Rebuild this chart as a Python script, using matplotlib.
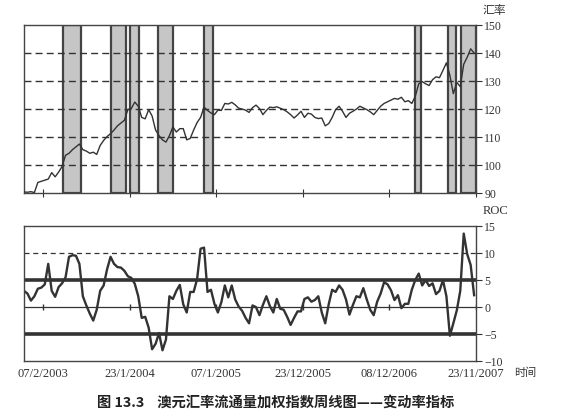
import matplotlib
matplotlib.use("Agg")
import matplotlib.pyplot as plt
import pandas as pd

plt.rcParams['font.family'] = ['Liberation Serif', 'Noto Sans CJK SC', 'DejaVu Sans']

# weekly data, one sample every two weeks
dates = pd.date_range('2002-11-22', periods=131, freq='14D')

price = [
    90.4, 90.3, 90.5, 90.2, 93.8, 94.2, 94.6, 95.0, 97.3, 95.8,
    97.5, 99.5, 103.5, 104.2, 105.5, 106.5, 107.5, 105.5, 105.0, 104.2,
    104.6, 103.8, 107.0, 108.8, 110.2, 111.2, 112.5, 114.0, 115.0, 116.0,
    119.8, 120.2, 122.5, 121.0, 117.0, 116.5, 119.8, 117.5, 112.5, 110.5,
    109.0, 108.2, 110.5, 113.6, 111.8, 113.0, 113.0, 109.0, 109.5, 112.5,
    115.2, 117.0, 120.7, 119.5, 118.6, 118.0, 119.6, 119.5, 122.0, 121.8,
    122.4, 121.5, 120.3, 120.0, 119.6, 118.8, 120.5, 121.4, 120.2, 118.0,
    119.5, 120.7, 120.5, 120.8, 120.3, 119.8, 119.0, 118.0, 116.8, 117.9,
    119.2, 117.0, 118.5, 118.2, 117.0, 116.6, 116.8, 114.0, 114.8, 117.0,
    119.8, 121.0, 119.2, 117.0, 118.5, 119.2, 120.0, 121.0, 120.4, 119.8,
    119.0, 118.0, 119.5, 121.0, 122.0, 122.6, 123.2, 123.8, 123.5, 124.2,
    122.6, 123.0, 122.0, 124.5, 129.0, 129.8, 129.0, 128.4, 130.5, 131.5,
    131.2, 133.8, 136.5, 132.0, 125.5, 129.5, 128.0, 136.0, 138.5, 141.5,
    140.0,
]

roc = [
    3.0, 2.5, 1.2, 2.0, 3.4, 3.6, 4.2, 8.0, 3.0, 1.9,
    3.7, 4.4, 5.5, 9.3, 9.6, 9.5, 8.0, 2.0, 0.3, -1.2,
    -2.5, -0.5, 3.0, 4.0, 7.0, 9.3, 8.0, 7.4, 7.3, 6.7,
    5.7, 5.4, 4.3, 2.0, -2.0, -1.8, -3.8, -7.8, -6.8, -4.8,
    -8.0, -6.0, 2.0, 1.5, 3.0, 4.1, 0.5, -1.0, 2.8, 2.8,
    5.2, 10.8, 11.0, 2.8, 3.2, 0.6, -1.0, 0.9, 4.0, 1.8,
    4.0, 1.4, 0.1, -0.7, -2.0, -3.0, 0.3, 0.0, -1.5, 0.4,
    2.0, 0.2, -1.0, 1.5, -0.3, -0.5, -1.8, -3.3, -2.0, -0.8,
    -0.8, 1.5, 1.8, 1.0, 1.3, 2.0, -1.0, -3.0, 0.5, 3.2,
    2.8, 4.0, 3.2, 1.4, -1.4, 0.4, 2.0, 1.8, 3.5, 1.4,
    -0.5, -1.5, 1.0, 2.5, 4.6, 4.2, 3.1, 1.3, 2.2, -0.2,
    0.6, 0.6, 3.2, 5.0, 6.2, 4.0, 5.0, 3.9, 4.4, 2.4,
    3.0, 5.0, 2.0, -5.3, -3.0, -0.6, 3.0, 13.6, 9.8, 7.8,
    2.2,
]

# shaded periods on the price chart
band_start = ['2003-04-28', '2003-11-10', '2004-01-26', '2004-05-17',
              '2004-11-20', '2007-03-23', '2007-08-03', '2007-09-25']
band_end = ['2003-07-10', '2004-01-10', '2004-03-02', '2004-07-17',
            '2004-12-26', '2007-04-17', '2007-09-05', '2007-11-23']

tick_dates = ['2003-02-07', '2004-01-23', '2005-01-07', '2005-12-23',
              '2006-12-08', '2007-11-23']
tick_labels = ['07/2/2003', '23/1/2004', '07/1/2005', '23/12/2005',
               '08/12/2006', '23/11/2007']

price_ticks = [90, 100, 110, 120, 130, 140, 150]
roc_ticks = [-10, -5, 0, 5, 10, 15]

ink = '#333333'
x0 = pd.Timestamp('2002-11-22')
x1 = pd.Timestamp('2007-11-23')
ticks = pd.to_datetime(tick_dates)

fig = plt.figure(figsize=(5.62, 4.17), dpi=100)
ax1 = fig.add_axes([0.0427, 0.537, 0.804, 0.403])
ax2 = fig.add_axes([0.0427, 0.134, 0.804, 0.324])

# top: price with shaded bands
for s, e in zip(band_start, band_end):
    ax1.axvspan(pd.Timestamp(s), pd.Timestamp(e), facecolor='#c6c6c6',
                edgecolor='#444444', linewidth=1.6, zorder=1)
for v in price_ticks[1:-1]:
    ax1.axhline(v, color=ink, linestyle=(0, (5, 3)), linewidth=1.0, zorder=2)
ax1.plot(dates, price, color=ink, linewidth=1.0, zorder=3)
ax1.set_xlim(x0, x1)
ax1.set_ylim(90, 150)
ax1.set_yticks(price_ticks)
ax1.yaxis.tick_right()
ax1.set_xticks(ticks)
ax1.set_xticklabels([])
ax1.tick_params(axis='x', direction='inout', length=6, color=ink)
ax1.tick_params(axis='y', direction='out', length=4, color=ink,
                labelsize=8.5, labelcolor=ink, pad=2)
for sp in ax1.spines.values():
    sp.set_color('#444444')
    sp.set_linewidth(1.0)
ax1.text(1.015, 1.05, '汇率', transform=ax1.transAxes, fontsize=8.5,
         color=ink, ha='left', va='bottom', family=['Noto Sans CJK SC'])

# bottom: rate of change
ax2.axhline(10, color=ink, linestyle=(0, (4, 3)), linewidth=0.9)
ax2.axhline(5, color=ink, linewidth=2.6)
ax2.axhline(-5, color=ink, linewidth=2.6)
ax2.axhline(0, color=ink, linewidth=0.9)
ax2.plot(ticks, [0] * len(ticks), linestyle='none', marker='|',
         markersize=5, color=ink)
ax2.plot(dates, roc, color=ink, linewidth=1.7)
ax2.set_xlim(x0, x1)
ax2.set_ylim(-10, 15)
ax2.set_yticks(roc_ticks)
ax2.yaxis.tick_right()
ax2.set_xticks(ticks)
ax2.set_xticklabels(tick_labels)
ax2.tick_params(axis='x', length=0, labelsize=9, labelcolor=ink, pad=5)
ax2.tick_params(axis='y', direction='out', length=4, color=ink,
                labelsize=8.5, labelcolor=ink, pad=2)
for sp in ax2.spines.values():
    sp.set_color('#444444')
    sp.set_linewidth(1.0)
ax2.text(1.015, 1.07, 'ROC', transform=ax2.transAxes, fontsize=9,
         color=ink, ha='left', va='bottom')
ax2.text(1.085, -0.085, '时间', transform=ax2.transAxes, fontsize=8,
         color=ink, ha='left', va='center', family=['Noto Sans CJK SC'])

fig.text(0.49, 0.034, '图 13.3    澳元汇率流通量加权指数周线图——变动率指标',
         ha='center', va='center', fontsize=10.3, fontweight='bold',
         color='#222222', family=['Noto Sans CJK SC', 'DejaVu Sans'])

fig.savefig('out.png', dpi=100, facecolor='white')
